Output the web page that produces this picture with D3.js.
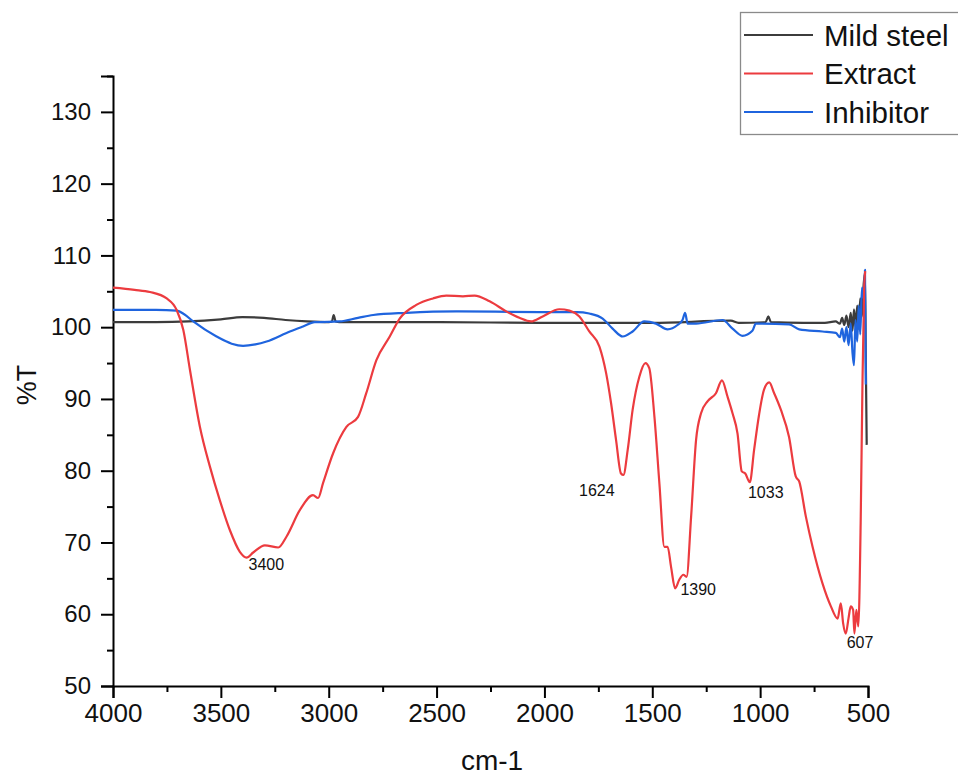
<!DOCTYPE html>
<html><head><meta charset="utf-8">
<script src="https://cdn.jsdelivr.net/npm/d3@7"></script>
<style>
body{margin:0;background:#fff;}
text{font-family:"Liberation Sans",Arial,sans-serif;}
</style></head>
<body><svg id="c" width="958" height="776"></svg>
<script>
const seriesNames = ["Mild steel","Extract","Inhibitor"];
const seriesColors = ["#3c3c3c","#ec3b3f","#1f64de"];
const xTicks = [4000,3500,3000,2500,2000,1500,1000,500];
const yTicks = [50,60,70,80,90,100,110,120,130];

const mildSteel = [[4000,100.7],[3800,100.7],[3650,100.8],[3500,101.1],[3400,101.4],[3300,101.3],[3200,101.0],[3100,100.8],[3000,100.7],[2985,100.8],[2977,101.7],[2968,100.8],[2950,100.7],[2500,100.7],[2000,100.6],[1500,100.6],[1136,100.9],[1100,100.6],[975,100.7],[962,101.5],[950,100.7],[800,100.6],[700,100.6],[650,100.8],[630,100.5],[620,101.3],[610,100.3],[600,101.6],[590,100.0],[580,102.0],[572,99.5],[565,102.5],[558,100.0],[550,103.0],[543,99.8],[536,104.0],[528,101.5],[520,106.0],[514,107.5],[510,95],[506,83.6]];

const extract = [[4000,105.5],[3900,105.2],[3829,104.9],[3751,104.0],[3705,102.4],[3674,99.6],[3643,94.0],[3597,86.1],[3551,80.6],[3505,75.9],[3458,71.7],[3412,68.7],[3381,67.9],[3350,68.6],[3296,69.6],[3234,69.3],[3196,70.8],[3134,74.5],[3073,76.6],[3049,76.2],[3026,78.3],[2980,82.4],[2918,86.1],[2864,87.5],[2826,90.8],[2779,95.4],[2717,98.7],[2671,101.2],[2594,103.1],[2517,104.0],[2455,104.4],[2378,104.3],[2324,104.4],[2254,103.6],[2177,102.2],[2116,101.3],[2062,100.8],[2008,101.5],[1931,102.5],[1884,102.3],[1838,101.5],[1792,99.4],[1745,97.3],[1714,93.6],[1691,89.4],[1668,84.3],[1645,79.6],[1634,79.4],[1614,82.9],[1591,88.5],[1560,93.1],[1532,95.0],[1514,94.3],[1490,87.5],[1467,78.2],[1444,69.4],[1429,69.4],[1413,66.6],[1394,63.6],[1375,64.8],[1356,65.5],[1341,65.2],[1320,73.6],[1297,84.3],[1274,88.0],[1243,89.7],[1205,90.8],[1177,92.6],[1151,90.3],[1128,88.0],[1105,85.2],[1085,79.9],[1069,79.6],[1048,78.4],[1028,82.9],[1005,87.8],[982,91.3],[958,92.3],[935,90.8],[904,88.5],[866,84.7],[835,79.2],[819,78.5],[788,73.6],[757,69.4],[711,64.3],[672,61.1],[641,59.4],[626,61.5],[615,58.7],[603,57.3],[590,59.5],[580,61.1],[569,60.6],[563,57.3],[554,60.6],[545,58.3],[534,72.7],[526,91.3],[518,105.2],[513,107.8]];

const inhibitor = [[4000,102.4],[3800,102.4],[3705,102.3],[3670,101.8],[3628,100.8],[3520,98.7],[3450,97.7],[3397,97.4],[3340,97.6],[3288,98.0],[3180,99.4],[3119,100.1],[3065,100.7],[2949,100.8],[2864,101.3],[2794,101.7],[2640,102.0],[2409,102.2],[2023,102.1],[1850,102.1],[1792,101.9],[1730,101.2],[1684,99.8],[1637,98.7],[1591,99.4],[1537,100.8],[1483,100.5],[1429,99.7],[1383,100.3],[1360,101.0],[1348,102.0],[1336,100.5],[1297,100.5],[1174,101.0],[1128,99.8],[1082,98.8],[1036,99.5],[1020,100.5],[866,100.4],[819,99.7],[711,99.4],[649,99.2],[630,98.6],[620,99.8],[610,98.0],[600,100.0],[590,97.5],[580,100.5],[572,96.5],[565,94.7],[558,101.0],[550,98.0],[543,103.0],[536,99.0],[528,105.5],[520,104.0],[514,108],[510,92]];

const annotations = [["3400",3289,66.9],["1624",1757,77.2],["1390",1287,63.5],["1033",974,76.9],["607",537,56.0]];

const svg = d3.select("#c");
const x = d3.scaleLinear().domain([4000,500]).range([113,868]);
const y = d3.scaleLinear().domain([50,135]).range([686,76]);

// axes
const xAxis = d3.axisBottom(x).tickValues(xTicks).tickSize(12).tickPadding(6).tickFormat(d3.format("d"));
const xMinor = d3.axisBottom(x).tickValues(d3.range(3750,500,-500)).tickSize(6).tickFormat("");
const yAxis = d3.axisLeft(y).tickValues(yTicks).tickSize(12).tickPadding(10).tickFormat(d3.format("d"));
const yMinor = d3.axisLeft(y).tickValues([55,65,75,85,95,105,115,125,135]).tickSize(6).tickFormat("");

function styleAxis(g){
  g.select(".domain").attr("stroke","#000").attr("stroke-width",2);
  g.selectAll(".tick line").attr("stroke","#000").attr("stroke-width",2);
}
const gx = svg.append("g").attr("transform","translate(0,686)").call(xAxis);
gx.selectAll("text").attr("font-size",26).attr("fill","#111").style("font-family","Liberation Sans, Arial");
styleAxis(gx);
const gxm = svg.append("g").attr("transform","translate(0,686)").call(xMinor);
gxm.select(".domain").remove(); gxm.selectAll(".tick line").attr("stroke","#000").attr("stroke-width",2);

const gy = svg.append("g").attr("transform","translate(113,0)").call(yAxis);
gy.selectAll("text").attr("font-size",24).attr("fill","#111").style("font-family","Liberation Sans, Arial");
styleAxis(gy);
const gym = svg.append("g").attr("transform","translate(113,0)").call(yMinor);
gym.select(".domain").remove(); gym.selectAll(".tick line").attr("stroke","#000").attr("stroke-width",2);

// lines
const line = d3.line().x(d=>x(d[0])).y(d=>y(d[1])).curve(d3.curveMonotoneX);
const data = [mildSteel, extract, inhibitor];
[0,2,1].forEach(i=>{
  svg.append("path").datum(data[i]).attr("d",line).attr("fill","none")
    .attr("stroke",seriesColors[i]).attr("stroke-width",2.2).attr("stroke-linejoin","round");
});

// annotations
annotations.forEach(a=>{
  svg.append("text").attr("x",x(a[1])).attr("y",y(a[2])).attr("text-anchor","middle")
    .attr("dominant-baseline","central").attr("font-size",16).attr("fill","#111").text(a[0]);
});

// axis titles
svg.append("text").attr("transform","translate(36,385) rotate(-90)").attr("text-anchor","middle")
  .attr("font-size",27).attr("fill","#111").text("%T");
svg.append("text").attr("x",492).attr("y",770).attr("text-anchor","middle")
  .attr("font-size",28).attr("fill","#111").text("cm-1");

// legend
const lg = svg.append("g");
lg.append("rect").attr("x",740.5).attr("y",12.5).attr("width",230).attr("height",122)
  .attr("fill","#fff").attr("stroke","#8a8a8a").attr("stroke-width",1.3);
seriesNames.forEach((n,i)=>{
  const yy = 35 + i*38.5;
  lg.append("line").attr("x1",744).attr("x2",813).attr("y1",yy).attr("y2",yy)
    .attr("stroke",seriesColors[i]).attr("stroke-width",2);
  lg.append("text").attr("x",824).attr("y",yy).attr("dominant-baseline","central")
    .attr("font-size",29.5).attr("fill","#111").text(n);
});
</script></body></html>
